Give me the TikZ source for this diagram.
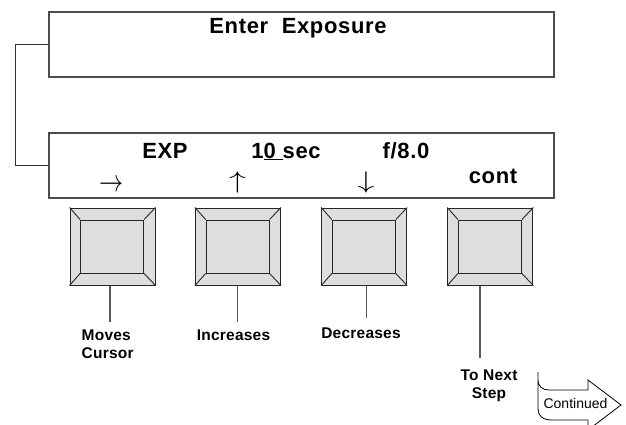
\RequirePackage{fix-cm}
\documentclass[tikz,border=0pt]{standalone}
\usepackage{fontspec}
\setmainfont{Liberation Sans}
\newfontfamily\spacedsans[LetterSpace=3]{Liberation Sans}
\newfontfamily\lblsans[LetterSpace=1.5]{Liberation Sans}
\begin{document}
\begin{tikzpicture}[x=1pt,y=-1pt,
  big/.style={font=\spacedsans\bfseries\fontsize{22}{24}\selectfont, inner sep=0, anchor=base},
  lab/.style={font=\lblsans\bfseries\fontsize{15.5}{18}\selectfont, inner sep=0, align=left, anchor=base west},
  labc/.style={font=\lblsans\bfseries\fontsize{15.5}{18}\selectfont, inner sep=0, align=center, anchor=base},
  arr/.style={font=\fontsize{24}{24}\selectfont, inner sep=0},
  panel/.style={draw=black!70, line width=1.3pt, minimum width=505, minimum height=65, inner sep=0},
  btn/.style={draw=black!85, fill=black!13, line width=1pt, minimum width=85, minimum height=77, inner sep=0},
  btnin/.style={draw=black!85, line width=1pt, minimum width=63, minimum height=53, inner sep=0},
  wire/.style={draw=black!80, line width=0.9pt},
  stem/.style={draw=black!65, line width=1.1pt}]
\useasboundingbox (0,0) rectangle (626,425);

% panels
\node[panel] (top) at (301.5,44.5) {};
\node[panel] (disp) at (301.5,165.5) {};
\draw[wire] (top.west) -- ++(-33,0) |- (disp.west);

\node[big] (title) at (298,34) {Enter\ \ Exposure};
\node[big] (exp) at (165,158) {EXP};
\node[big] (tsec) at (286,158) {1\underline{0\ }sec};
\node[big] (fnum) at (406,158) {f/8.0};
\node[big] (cont) at (493,183) {cont};

\node[arr] (ar) at (111,186) {\scalebox{1}[1.3]{$\rightarrow$}};
\node[arr] (au) at (237.5,182) {\scalebox{1.4}[1]{$\uparrow$}};
\node[arr] (ad) at (366,182) {\scalebox{1.4}[1]{$\downarrow$}};

% buttons
\foreach \n/\x in {1/112.5,2/238,3/364.2,4/490.3}{
  \node[btn] (b\n) at (\x,246.5) {};
  \node[btnin] (i\n) at (\x-0.4,246.5) {};
  \draw[line width=0.9pt, black!85] (b\n.north west) -- (i\n.north west)
        (b\n.north east) -- (i\n.north east)
        (b\n.south west) -- (i\n.south west)
        (b\n.south east) -- (i\n.south east);
}

% stems
\coordinate (c1) at (110,322);
\coordinate (c2) at (237.3,322);
\coordinate (c3) at (366.7,318);
\coordinate (c4) at (480,358);
\draw[stem] (b1.south -| c1) -- (c1);
\draw[stem] (b2.south -| c2) -- (c2);
\draw[stem] (b3.south -| c3) -- (c3);
\draw[stem] (b4.south -| c4) -- (c4);

\node[lab] (l1) at (81.5,358) {Moves\\Cursor};
\node[labc] (l2) at (233.5,340) {Increases};
\node[labc] (l3) at (361,338) {Decreases};
\node[labc] (l4) at (489,398) {To Next\\Step};

% continued arrow
\draw[line width=0.8pt, fill=white] (538,372) -- (538,409)
  .. controls (538,416) and (543,420) .. (552,420) -- (588,420) -- (588,430)
  -- (621,405) -- (588,380) -- (588,390) -- (549,390)
  .. controls (542,390) and (538,386) .. (538,380);
\node[font=\fontsize{14}{14}\selectfont, inner sep=0, anchor=base] (contd) at (575.5,408) {Continued};
\end{tikzpicture}
\end{document}
